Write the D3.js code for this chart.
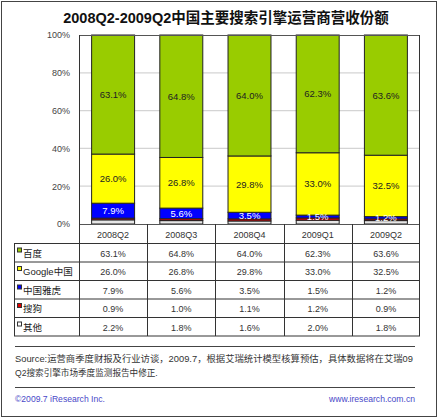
<!DOCTYPE html>
<html><head><meta charset="utf-8">
<script src="https://cdn.jsdelivr.net/npm/d3@7"></script>
<style>
body{margin:0;background:#fff;}
svg{display:block;font-family:"Liberation Sans","Noto Sans CJK SC",sans-serif;}
</style></head>
<body><svg id="c" width="438" height="418"></svg>
<script>
const title = "2008Q2-2009Q2中国主要搜索引擎运营商营收份额";
const quarters = ["2008Q2","2008Q3","2008Q4","2009Q1","2009Q2"];
const seriesNames = ["百度","Google中国","中国雅虎","搜狗","其他"];
const baidu  = [63.1, 64.8, 64.0, 62.3, 63.6];
const google = [26.0, 26.8, 29.8, 33.0, 32.5];
const yahoo  = [7.9, 5.6, 3.5, 1.5, 1.2];
const sogou  = [0.9, 1.0, 1.1, 1.2, 0.9];
const other  = [2.2, 1.8, 1.6, 2.0, 1.8];
const colors = ["#99cc00","#ffff00","#0000ff","#e00000","#e6e6e6"];
const yTicks = [0,20,40,60,80,100];
const sourceLines = ["Source:运营商季度财报及行业访谈，2009.7，根据艾瑞统计模型核算预估，具体数据将在艾瑞09","Q2搜索引擎市场季度监测报告中修正."];
const copyright = "©2009.7 iResearch Inc.";
const website = "www.iresearch.com.cn";

const seriesVals = [baidu, google, yahoo, sogou, other];
const labelled = [true, true, true, false, false];
const labelColor = ["#222","#222","#fff","#fff","#fff"];

const svg = d3.select("#c");
// outer border
svg.append("rect").attr("x",1.5).attr("y",1.5).attr("width",435).attr("height",415)
  .attr("fill","#fff").attr("stroke","#444").attr("stroke-width",1);

svg.append("text").attr("x",226).attr("y",23).attr("text-anchor","middle")
  .attr("font-size",14.5).attr("font-weight","bold").attr("fill","#111").text(title);

const plotL=79, plotR=420, plotT=35, plotB=224;
const x = d3.scaleBand().domain(quarters).range([plotL,plotR]).paddingInner(0.37).paddingOuter(0.185);
const xc = d3.scaleBand().domain(quarters).range([plotL,plotR]);
const y = d3.scaleLinear().domain([0,100]).range([plotB,plotT]);

// gridlines
svg.append("g").selectAll("line").data(yTicks.filter(t=>t>0&&t<100)).join("line")
  .attr("x1",plotL).attr("x2",plotR).attr("y1",d=>y(d)).attr("y2",d=>y(d))
  .attr("stroke","#d4d4d4").attr("stroke-width",1.2);

// y axis labels
const yAxis = d3.axisLeft(y).tickValues(yTicks).tickSize(0).tickPadding(9).tickFormat(d=>d+"%");
const ga = svg.append("g").attr("transform",`translate(${plotL},0)`).call(yAxis);
ga.select(".domain").remove();
ga.selectAll("text").attr("font-size",9).attr("fill","#444").attr("font-family","inherit");

// stack: bottom to top: other, sogou, yahoo, google, baidu
const rows = quarters.map((q,i)=>{const o={q}; seriesNames.forEach((s,k)=>o[s]=seriesVals[k][i]); return o;});
const stackOrder = seriesNames.slice().reverse();
const stack = d3.stack().keys(stackOrder)(rows);

stack.forEach(layer=>{
  const k = seriesNames.indexOf(layer.key);
  const g = svg.append("g");
  g.selectAll("rect").data(layer).join("rect")
    .attr("x",d=>x(d.data.q)).attr("width",x.bandwidth())
    .attr("y",d=>y(Math.min(d[1],100))).attr("height",d=>y(d[0])-y(Math.min(d[1],100)))
    .attr("fill",colors[k]).attr("stroke","#222").attr("stroke-width",1);
});
stack.forEach(layer=>{
  const k = seriesNames.indexOf(layer.key);
  if(!labelled[k]) return;
  svg.append("g").selectAll("text").data(layer).join("text")
    .attr("x",d=>x(d.data.q)+x.bandwidth()/2)
    .attr("y",d=>(y(d[0])+y(Math.min(d[1],100)))/2+3.5)
    .attr("text-anchor","middle").attr("font-size",9.5).attr("fill",labelColor[k])
    .text(d=>d.data[layer.key].toFixed(1)+"%");
});

// plot border
svg.append("rect").attr("x",plotL+0.5).attr("y",plotT+0.5).attr("width",plotR-plotL-1).attr("height",plotB-plotT)
  .attr("fill","none").attr("stroke","#555").attr("stroke-width",1);

// table
const tblL=14, hdrB=243.5, rowH=18.5;
const tbl = svg.append("g").attr("stroke","#333").attr("stroke-width",1);
// header row box
tbl.append("line").attr("x1",plotL).attr("x2",plotR).attr("y1",hdrB).attr("y2",hdrB);
tbl.append("line").attr("x1",tblL).attr("x2",plotL).attr("y1",hdrB).attr("y2",hdrB);
seriesNames.forEach((s,k)=>{
  const yy = hdrB+rowH*(k+1);
  tbl.append("line").attr("x1",tblL).attr("x2",plotR).attr("y1",yy).attr("y2",yy);
});
const tblB = hdrB+rowH*seriesNames.length;
tbl.append("line").attr("x1",tblL+0.5).attr("x2",tblL+0.5).attr("y1",hdrB).attr("y2",tblB);
quarters.forEach((q,i)=>{
  const xx = Math.round(xc(q))+0.5;
  tbl.append("line").attr("x1",xx).attr("x2",xx).attr("y1",i===0?plotT:plotB).attr("y2",tblB);
});
tbl.append("line").attr("x1",plotR-0.5).attr("x2",plotR-0.5).attr("y1",plotT).attr("y2",tblB);

svg.append("g").selectAll("text").data(quarters).join("text")
  .attr("x",d=>xc(d)+xc.bandwidth()/2).attr("y",plotB+13.5).attr("text-anchor","middle")
  .attr("font-size",9).attr("fill","#333").text(d=>d);

seriesNames.forEach((s,k)=>{
  const ry = hdrB+rowH*k;
  svg.append("rect").attr("x",17.5).attr("y",ry+4.5).attr("width",4).attr("height",4)
    .attr("fill",k===4?"#fff":colors[k]).attr("stroke","#333").attr("stroke-width",1);
  svg.append("text").attr("x",23).attr("y",ry+13).attr("font-size",9.5).attr("fill","#222").text(s);
  svg.append("g").selectAll("text").data(quarters).join("text")
    .attr("x",d=>xc(d)+xc.bandwidth()/2).attr("y",ry+13).attr("text-anchor","middle")
    .attr("font-size",9).attr("fill","#333").text((d,i)=>seriesVals[k][i].toFixed(1)+"%");
});

// footer
[346,387].forEach(yy=>svg.append("line").attr("x1",15).attr("x2",415).attr("y1",yy+0.5).attr("y2",yy+0.5)
  .attr("stroke","#444").attr("stroke-width",1));
sourceLines.forEach((t,i)=>svg.append("text").attr("x",15).attr("y",362+i*13.5)
  .attr("font-size",8.6).attr("fill","#333").attr("textLength",i===0?398:null).attr("lengthAdjust","spacingAndGlyphs").text(t));
svg.append("text").attr("x",15).attr("y",402).attr("font-size",8.6).attr("fill","#4848c8").text(copyright);
svg.append("text").attr("x",415).attr("y",402).attr("text-anchor","end").attr("font-size",8.6).attr("fill","#4848c8").text(website);
</script></body></html>
